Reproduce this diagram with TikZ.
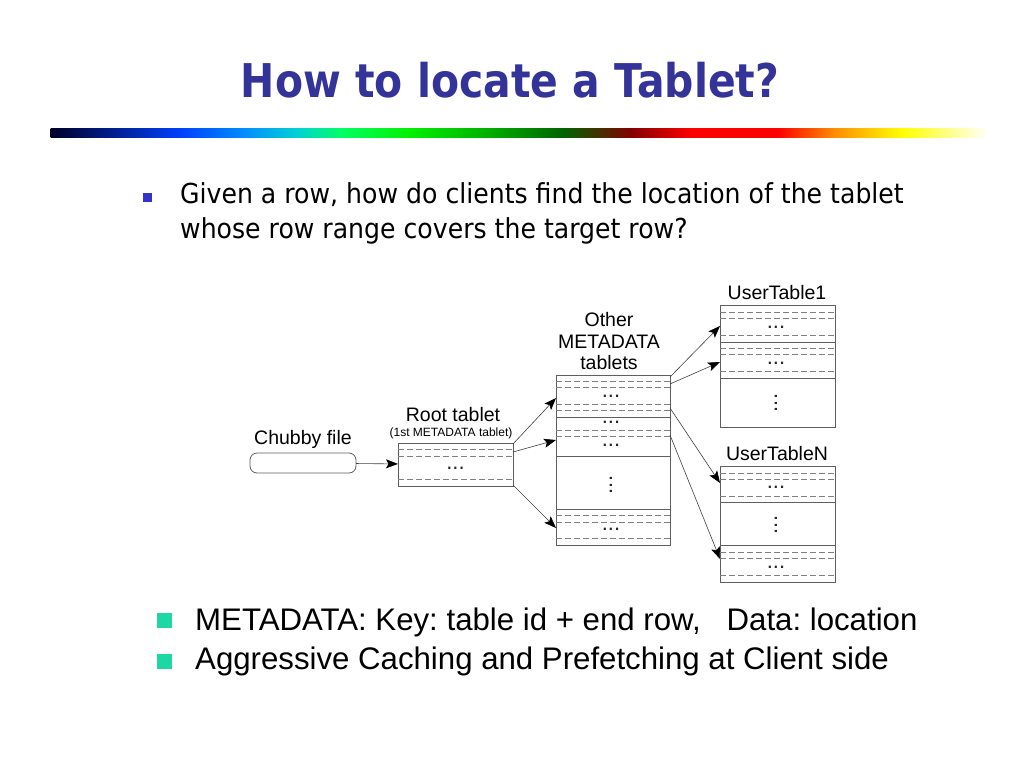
\documentclass[tikz,border=0pt]{standalone}
\usepackage{fontspec}
\setmainfont{Liberation Sans}
\newfontfamily\titlefont[FakeStretch=0.88]{DejaVu Sans}
\newfontfamily\bodyfont[FakeStretch=0.915]{DejaVu Sans}
\usetikzlibrary{arrows.meta,positioning}
\frenchspacing

\definecolor{titleblue}{RGB}{51,51,153}
\definecolor{bulletblue}{RGB}{51,51,204}
\definecolor{bulletteal}{RGB}{30,215,165}
\definecolor{boxgray}{RGB}{95,95,95}
\definecolor{barA}{RGB}{0,0,40}
\definecolor{barB}{RGB}{0,64,255}
\definecolor{barC}{RGB}{0,140,255}
\definecolor{barD}{RGB}{0,210,210}
\definecolor{barE}{RGB}{0,255,100}
\definecolor{barF}{RGB}{0,240,0}
\definecolor{barG}{RGB}{0,180,0}
\definecolor{barH}{RGB}{0,100,0}
\definecolor{barI}{RGB}{130,0,0}
\definecolor{barJ}{RGB}{255,0,0}
\definecolor{barK}{RGB}{255,140,0}
\definecolor{barL}{RGB}{255,255,0}

\tikzset{
  tablet/.style={draw=boxgray, line width=0.8pt, inner sep=0pt, outer sep=0pt},
  rowsep/.style={draw=boxgray!80, line width=0.6pt, dash pattern=on 6pt off 3pt},
  rowline/.style={draw=boxgray, line width=0.8pt},
  link/.style={draw=black!75, line width=0.6pt,
    -{Stealth[length=12pt,width=9pt,inset=2.5pt,color=black]}},
  lbl/.style={font=\fontsize{19.5}{21}\selectfont, inner sep=0pt, anchor=base},
  dots/.style={font=\fontsize{22}{22}\selectfont, inner sep=0pt, text=black!85},
  bullet/.style={inner sep=0pt, outer sep=0pt},
}

\begin{document}
\begin{tikzpicture}[x=1pt,y=-1pt]
  \useasboundingbox (0,0) rectangle (1024,768);
  \fill[white] (0,0) rectangle (1024,768);

  % title and rainbow bar
  \node[text=titleblue, font=\titlefont\bfseries\fontsize{46.5}{50}\selectfont,
    inner sep=0pt, anchor=base] (title) at (510,97.7) {How to locate a Tablet?};
  \foreach \xa/\xb/\ca/\cb in {51/181/barA/barB, 181/243/barB/barC,
      243/298/barC/barD, 298/341/barD/barE, 341/409/barE/barF,
      409/483/barF/barG, 483/563/barG/barH, 563/631/barH/barI,
      631/692/barI/barJ, 692/778/barJ/barJ, 778/834/barJ/barK,
      834/902/barK/barL, 902/988/barL/white}
    \shade[left color=\ca, right color=\cb] (\xa-0.3,128) rectangle (\xb+0.3,137);

  % question
  \node[bullet, fill=bulletblue, minimum size=9pt] (b0) at (147.5,197.5) {};
  \node[font=\bodyfont\fontsize{27.5}{30}\selectfont, inner sep=0pt,
    anchor=base west] (q1) at (180,203.3)
    {Given a row, how do clients find the location of the tablet};
  \node[font=\bodyfont\fontsize{27.5}{30}\selectfont, inner sep=0pt,
    anchor=base west] (q2) at (180,238.3)
    {whose row range covers the target row?};

  % chubby file
  \node[tablet, rounded corners=7pt, minimum width=106pt, minimum height=20pt]
    (chubby) at (303,463) {};
  \node[lbl] (chubbylbl) at (303,444) {Chubby file};

  % root tablet
  \node[tablet, minimum width=115pt, minimum height=43pt] (root) at (455.5,464.5) {};
  \foreach \y in {449,456,479}
    \draw[rowsep] (398,\y) -- (513,\y);
  \node[dots] (rootdots) at (455.5,468) {...};
  \node[lbl] (rootlbl) at (453,421) {Root tablet};
  \node[font=\fontsize{12}{12}\selectfont, inner sep=0pt, anchor=base]
    (rootsub) at (451,436) {(1st METADATA tablet)};

  % other metadata tablets
  \node[tablet, minimum width=114pt, minimum height=170pt] (meta) at (613,460) {};
  \foreach \y in {417,456,509}
    \draw[rowline] (556,\y) -- (670,\y);
  \foreach \y in {381,387,404,410,430,436.5,515,522,538}
    \draw[rowsep] (556,\y) -- (670,\y);
  \node[dots] (metadots1) at (611,396.7) {...};
  \node[dots] (metadots2) at (611,422.7) {...};
  \node[dots] (metadots3) at (611,445) {...};
  \node[dots, rotate=90] (metavdots) at (611,485) {...};
  \node[dots] (metadots4) at (611,529) {...};
  \node[lbl] (metalbl1) at (609,326) {Other};
  \node[lbl] (metalbl2) at (609,348) {METADATA};
  \node[lbl] (metalbl3) at (609,369) {tablets};

  % user tables
  \node[tablet, minimum width=115pt, minimum height=122pt] (user1) at (777.5,366) {};
  \foreach \y in {342,378}
    \draw[rowline] (720,\y) -- (835,\y);
  \foreach \y in {312,318,335,348,354,371}
    \draw[rowsep] (720,\y) -- (835,\y);
  \node[dots] (userdots1) at (776,327) {...};
  \node[dots] (userdots2) at (776,363) {...};
  \node[dots, rotate=90] (uservdots1) at (776,403) {...};
  \node[lbl] (user1lbl) at (777,299) {UserTable1};

  \node[tablet, minimum width=115pt, minimum height=116pt] (userN) at (777.5,524) {};
  \foreach \y in {502,545}
    \draw[rowline] (720,\y) -- (835,\y);
  \foreach \y in {473,479,496,552,558,575}
    \draw[rowsep] (720,\y) -- (835,\y);
  \node[dots] (userdots3) at (776,487) {...};
  \node[dots, rotate=90] (uservdotsN) at (776,525) {...};
  \node[dots] (userdots4) at (776,567) {...};
  \node[lbl] (userNlbl) at (777,460) {UserTableN};

  % link end points
  \coordinate (rootout1) at (513,444);
  \coordinate (rootout2) at (513,452);
  \coordinate (rootout3) at (513,485);
  \coordinate (metain1) at (556,398);
  \coordinate (metain2) at (556,440);
  \coordinate (metain3) at (556,528);
  \coordinate (metaout1) at (670,377);
  \coordinate (metaout2) at (670,384);
  \coordinate (metaout3) at (670,408);
  \coordinate (metaout4) at (670,435);
  \coordinate (user1in1) at (720,326);
  \coordinate (user1in2) at (720,362);
  \coordinate (userNin1) at (720,483);
  \coordinate (userNin2) at (720,559);

  \draw[link] (chubby) -- (root);
  \draw[link] (rootout1) -- (metain1);
  \draw[link] (rootout2) -- (metain2);
  \draw[link] (rootout3) -- (metain3);
  \draw[link] (metaout1) -- (user1in1);
  \draw[link] (metaout2) -- (user1in2);
  \draw[link] (metaout3) -- (userNin1);
  \draw[link] (metaout4) -- (userNin2);

  % notes
  \node[bullet, fill=bulletteal, minimum size=15pt] (b1) at (164.5,620.5) {};
  \node[bullet, fill=bulletteal, minimum size=15pt] (b2) at (164.5,661) {};
  \node[font=\fontsize{31.2}{34}\selectfont, inner sep=0pt, anchor=base west]
    (n1) at (195,630.7) {METADATA: Key: table id + end row,\ \ \ Data: location};
  \node[font=\fontsize{31.2}{34}\selectfont, inner sep=0pt, anchor=base west]
    (n2) at (195,669) {Aggressive Caching and Prefetching at Client side};
\end{tikzpicture}
\end{document}
